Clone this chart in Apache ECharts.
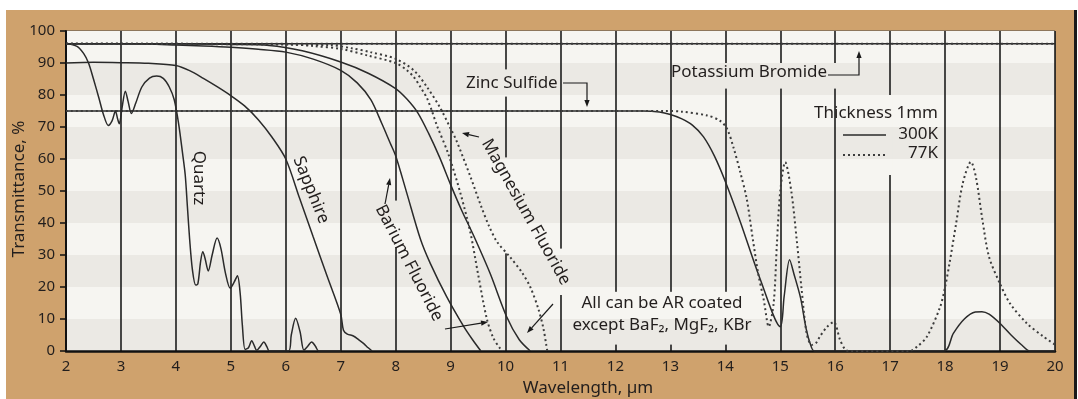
<!DOCTYPE html>
<html>
<head>
<meta charset="utf-8">
<script src="https://cdn.jsdelivr.net/npm/echarts@6/dist/echarts.min.js"></script>
<style>
  html, body { margin: 0; padding: 0; background: #ffffff; }
  #chart { width: 1078px; height: 399px; }
</style>
</head>
<body>
<div id="chart"></div>
<script>
// Infrared transmittance (%) of 1 mm thick window materials versus wavelength (µm).
// Each series is a list of [wavelength, transmittance] pairs; 300 K solid, 77 K dotted.

const quartz300 = [
  [2, 96.2], [2.2, 95.2], [2.32, 93], [2.41, 90], [2.5, 85], [2.6, 79], [2.68, 74], [2.77, 70.5],
  [2.84, 72], [2.9, 75], [2.94, 72.5], [2.97, 71], [3.02, 76], [3.08, 81.2], [3.13, 78], [3.19, 74.2],
  [3.27, 77.5], [3.38, 82.5], [3.52, 85.3], [3.65, 85.9], [3.77, 85.2], [3.88, 82.5], [3.97, 78.5],
  [4.05, 71], [4.12, 62], [4.17, 55], [4.21, 45], [4.25, 35], [4.3, 25.5], [4.36, 20.6], [4.4, 21],
  [4.45, 28], [4.49, 31], [4.53, 29], [4.59, 25], [4.66, 30], [4.75, 35.3], [4.82, 32], [4.9, 24.5],
  [4.99, 19.6], [5.06, 21.5], [5.12, 23.5], [5.17, 18], [5.21, 8], [5.26, 0.5], [5.32, 1], [5.38, 3.2],
  [5.43, 1.5], [5.47, 0.2], [5.54, 1.5], [5.6, 2.8], [5.66, 1.2], [5.7, 0], [6.05, 0], [6.1, 5],
  [6.18, 10.2], [6.26, 6], [6.33, 0.3], [6.4, 1.5], [6.47, 2.8], [6.54, 1.5], [6.6, 0], [7, 0]
];

const sapphire300 = [
  [2, 90], [2.5, 90.2], [3, 90.1], [3.5, 89.9], [4, 89.2], [4.25, 87.6], [4.5, 85.2], [4.75, 82.6],
  [5, 79.8], [5.25, 76.6], [5.5, 72.3], [5.75, 66.8], [6, 60], [6.25, 47.8], [6.5, 35.6], [6.75, 23.5],
  [7, 11.5], [7.05, 6.5], [7.12, 5.3], [7.23, 4.7], [7.33, 3.5], [7.42, 2.3], [7.5, 1], [7.57, 0]
];

const bariumFluoride300 = [
  [2, 96], [3, 96], [3.5, 95.9], [4, 95.6], [4.5, 95.3], [5, 94.9], [5.5, 94.3], [6, 93.4],
  [6.5, 91.2], [7, 87.7], [7.3, 83.8], [7.55, 78.5], [7.75, 71], [7.9, 65], [8, 61], [8.2, 49.5],
  [8.45, 35], [8.63, 27.4], [8.93, 16.9], [9.24, 7.6], [9.4, 3.5], [9.55, 0]
];

const bariumFluoride77 = [
  [2, 96], [6, 95.9], [6.5, 95.3], [7, 94.4], [7.5, 92.3], [8, 90], [8.2, 87.8], [8.33, 85.6],
  [8.45, 82.5], [8.57, 79], [8.66, 75], [8.75, 70.5], [8.96, 61.5], [9.18, 49.2], [9.36, 37],
  [9.5, 24], [9.66, 10], [9.78, 4], [9.9, 0.8], [9.95, 0]
];

const magnesiumFluoride300 = [
  [2, 96], [4, 96], [5, 95.8], [5.7, 95.5], [6.3, 93.8], [7, 90.3], [7.5, 86.8], [8, 82],
  [8.2, 78.8], [8.4, 74.5], [8.6, 68], [8.8, 60.5], [9, 52], [9.2, 44], [9.42, 36], [9.72, 24.2],
  [10.02, 10.7], [10.25, 3.5], [10.45, 0]
];

const magnesiumFluoride77 = [
  [2, 96], [6.8, 95.6], [7.2, 94.6], [7.54, 93.4], [8, 91.3], [8.33, 87.7], [8.57, 82.5],
  [8.81, 76], [9, 69.5], [9.1, 66], [9.36, 54.5], [9.55, 45.5], [9.7, 39], [9.85, 34],
  [10.08, 29.4], [10.3, 24.5], [10.45, 20], [10.6, 13], [10.69, 7], [10.74, 2], [10.76, 0]
];

const zincSulfide300 = [
  [2, 75], [12.5, 75], [12.8, 74.7], [13, 73.9], [13.2, 72.6], [13.4, 70.6], [13.6, 67], [13.8, 61],
  [14, 53], [14.27, 40.5], [14.64, 22.2], [15, 7.6], [15.07, 17], [15.17, 28.5], [15.25, 24],
  [15.37, 16.5], [15.47, 7], [15.55, 2], [15.62, 0], [17.98, 0], [18.15, 5.5], [18.35, 10],
  [18.55, 12.2], [18.67, 12.3], [18.8, 11.5], [19, 8.6], [19.2, 5], [19.4, 1.8], [19.55, 0], [20, 0]
];

const zincSulfide77 = [
  [2, 75], [12.9, 75], [13.2, 74.8], [13.67, 73.6], [13.9, 72], [14.03, 69.5], [14.15, 63.5],
  [14.27, 56], [14.39, 47.5], [14.5, 35], [14.6, 24], [14.7, 15.9], [14.79, 7.6], [14.88, 15],
  [14.94, 34], [15, 50], [15.09, 59], [15.2, 50], [15.3, 34.6], [15.39, 19], [15.48, 5.5],
  [15.57, 1.9], [15.65, 2.5], [15.72, 4.5], [15.85, 7.5], [15.97, 9.1], [16.09, 3.4], [16.18, 0.5],
  [16.25, 0], [17.35, 0], [17.5, 1.5], [17.67, 4.5], [17.91, 13.8], [18, 20], [18.08, 27.4],
  [18.2, 39.8], [18.32, 52.3], [18.47, 59.1], [18.56, 54.4], [18.68, 40.9], [18.8, 29.4],
  [19, 21], [19.18, 14.9], [19.49, 8.6], [19.79, 4.5], [20, 2]
];

const potassiumBromide300 = [[2, 96], [20, 96]];
const potassiumBromide77 = [[2, 96], [20, 96]];

// ---- drawing ----
const FONT = '"Noto Sans", "DejaVu Sans", sans-serif';
const INK = '#221e1d';
const TAN = '#cfa26d';
const BAND_DARK = '#ebe9e4';
const BAND_LIGHT = '#f6f5f1';

const solid = { color: '#2a2a2a', width: 1.5, type: 'solid' };
const dotted = { color: '#3c3c3c', width: 2, type: [2, 3] };

function lineSeries(name, data, style) {
  return {
    name, type: 'line', data, showSymbol: false, smooth: 0.3,
    lineStyle: style, z: 2, silent: true
  };
}

const chart = echarts.init(document.getElementById('chart'), null, { renderer: 'canvas' });

chart.setOption({
  animation: false,
  backgroundColor: 'transparent',
  grid: {
    left: 66, right: 23, top: 31, bottom: 48,
    show: true, borderColor: '#4a4a4a', borderWidth: 1, backgroundColor: 'transparent'
  },
  xAxis: {
    type: 'value', min: 2, max: 20, interval: 1,
    axisLine: { show: true, onZero: false, lineStyle: { color: '#111', width: 2.5 } },
    axisTick: { show: false },
    axisLabel: { color: INK, fontSize: 15, fontFamily: FONT, margin: 8 },
    splitLine: { show: true, lineStyle: { color: '#1c1c1c', width: 1.6 } }
  },
  yAxis: {
    type: 'value', min: 0, max: 100, interval: 10,
    axisLine: { show: true, lineStyle: { color: '#111', width: 2 } },
    axisTick: { show: true, inside: false, length: 6, lineStyle: { color: '#111', width: 1.5 } },
    axisLabel: { color: INK, fontSize: 15, fontFamily: FONT, margin: 11 },
    splitLine: { show: false },
    splitArea: { show: true, areaStyle: { color: [BAND_DARK, BAND_LIGHT] } }
  },
  series: [
    lineSeries('Potassium Bromide 300K', potassiumBromide300, solid),
    lineSeries('Potassium Bromide 77K', potassiumBromide77, dotted),
    lineSeries('Zinc Sulfide 300K', zincSulfide300, solid),
    lineSeries('Zinc Sulfide 77K', zincSulfide77, dotted),
    lineSeries('Quartz 300K', quartz300, solid),
    lineSeries('Sapphire 300K', sapphire300, solid),
    lineSeries('Barium Fluoride 300K', bariumFluoride300, solid),
    lineSeries('Barium Fluoride 77K', bariumFluoride77, dotted),
    lineSeries('Magnesium Fluoride 300K', magnesiumFluoride300, solid),
    lineSeries('Magnesium Fluoride 77K', magnesiumFluoride77, dotted)
  ]
});

// Gridline breaks behind the annotation text: [wavelength, from %, to %]
const gridlineBreaks = [
  [8, 32.5, 47], [10, 79.5, 88], [10, 30.5, 60.5], [11, 17.5, 32],
  [12, 2, 18.5], [13, 2, 18.5], [14, 2, 18.5],
  [14, 82, 90], [15, 82, 90], [16, 82, 90], [17, 55, 80]
];

const toPx = (x, y) => chart.convertToPixel({ xAxisIndex: 0, yAxisIndex: 0 }, [x, y]);

function text(str, x, y, opts = {}) {
  return {
    type: 'text', x, y, rotation: opts.rotation || 0, z: 10, silent: true,
    style: {
      text: str, fill: INK, fontSize: opts.size || 17, fontFamily: FONT,
      align: opts.align || 'center', verticalAlign: 'middle'
    }
  };
}

function arrow(points) {
  const n = points.length;
  const [x2, y2] = points[n - 1];
  const [x1, y1] = points[n - 2];
  const a = Math.atan2(y2 - y1, x2 - x1);
  const L = 7, W = 2.6;
  const bx = x2 - L * Math.cos(a), by = y2 - L * Math.sin(a);
  const shaft = points.slice(0, n - 1).concat([[bx, by]]);
  return [
    { type: 'polyline', z: 10, silent: true, shape: { points: shaft },
      style: { stroke: '#1a1a1a', lineWidth: 1.2, fill: null } },
    { type: 'polygon', z: 10, silent: true,
      shape: { points: [[x2, y2], [bx + W * Math.sin(a), by - W * Math.cos(a)], [bx - W * Math.sin(a), by + W * Math.cos(a)]] },
      style: { fill: '#1a1a1a' } }
  ];
}

const deg = d => d * Math.PI / 180;
const elements = [];

// frame
elements.push({ type: 'rect', z: -10, silent: true, shape: { x: 6, y: 10, width: 1068, height: 389 }, style: { fill: TAN } });
elements.push({ type: 'rect', z: -10, silent: true, shape: { x: 1074, y: 10, width: 3, height: 389 }, style: { fill: '#1a1a1a' } });

// gridline breaks, filled with the band colour they sit on
gridlineBreaks.forEach(([xv, lo, hi]) => {
  const px = toPx(xv, 0)[0];
  for (let b = Math.floor(lo / 10) * 10; b < hi; b += 10) {
    const s = Math.max(lo, b), e = Math.min(hi, b + 10);
    if (e <= s) continue;
    const yTop = toPx(xv, e)[1], yBot = toPx(xv, s)[1];
    elements.push({
      type: 'rect', z: 1, silent: true,
      shape: { x: px - 2.5, y: yTop, width: 5, height: yBot - yTop },
      style: { fill: (b / 10) % 2 === 0 ? BAND_DARK : BAND_LIGHT }
    });
  }
});

// axis titles
elements.push(text('Wavelength, µm', 588, 388));
elements.push(text('Transmittance, %', 19, 189, { rotation: deg(90) }));

// material labels
elements.push(text('Quartz', 199, 178, { rotation: deg(-90) }));
elements.push(text('Sapphire', 311, 190, { rotation: deg(-68) }));
elements.push(text('Barium Fluoride', 409, 263, { rotation: deg(-62.7) }));
elements.push(text('Magnesium Fluoride', 526, 212, { rotation: deg(-60.7) }));
elements.push(text('Zinc Sulfide', 466, 83, { align: 'left' }));
elements.push(text('Potassium Bromide', 671, 72, { align: 'left' }));
elements.push(text('All can be AR coated', 662, 303));
elements.push(text('except BaF₂, MgF₂, KBr', 662, 325));

// thickness / temperature key
elements.push(text('Thickness 1mm', 938, 113, { align: 'right' }));
elements.push(text('300K', 938, 134, { align: 'right' }));
elements.push(text('77K', 938, 153, { align: 'right' }));
elements.push({ type: 'line', z: 10, silent: true, shape: { x1: 843, y1: 135, x2: 886, y2: 135 },
  style: { stroke: '#2a2a2a', lineWidth: 1.5 } });
elements.push({ type: 'line', z: 10, silent: true, shape: { x1: 843, y1: 155, x2: 886, y2: 155 },
  style: { stroke: '#3c3c3c', lineWidth: 2, lineDash: [2, 3] } });

// leader arrows
elements.push(...arrow([[563, 83], [587, 83], [587, 107]]));
elements.push(...arrow([[828, 75], [859, 75], [859, 51]]));
elements.push(...arrow([[385, 204], [390, 178]]));
elements.push(...arrow([[445, 329], [488, 322]]));
elements.push(...arrow([[479, 137], [462, 133]]));
elements.push(...arrow([[553, 304], [527, 333]]));

chart.setOption({ graphic: { elements } });
</script>
</body>
</html>
